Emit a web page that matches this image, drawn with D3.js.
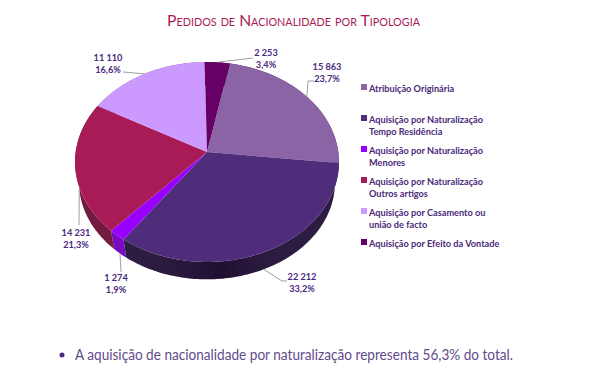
<!DOCTYPE html>
<html>
<head>
<meta charset="utf-8">
<script src="https://cdn.jsdelivr.net/npm/d3@7"></script>
<style>
    html, body { margin: 0; padding: 0; background: #fff; }
    svg { display: block; }
    text { font-family: Lato, "Open Sans", sans-serif; }
</style>
</head>
<body>
<svg id="chart" width="600" height="375"></svg>
<script>
const categories = [
    ['Atribuição Originária'],
    ['Aquisição por Naturalização', 'Tempo Residência'],
    ['Aquisição por Naturalização', 'Menores'],
    ['Aquisição por Naturalização', 'Outros artigos'],
    ['Aquisição por Casamento ou', 'união de facto'],
    ['Aquisição por Efeito da Vontade']
]
const values = [15863, 22212, 1274, 14231, 11110, 2253]
const valueLabels = ['15 863', '22 212', '1 274', '14 231', '11 110', '2 253']
const percentLabels = ['23,7%', '33,2%', '1,9%', '21,3%', '16,6%', '3,4%']
const topColors = ['#8b64a5', '#4f2d7b', '#9900ff', '#a81b57', '#cc99ff', '#660066']
const sideColors = ['#5c4070', '#24123a', '#7300c4', '#6e1238', '#8a66ad', '#440044']

const titleText = 'Pedidos de Nacionalidade por Tipologia'
const noteText = 'A aquisição de nacionalidade por naturalização representa 56,3% do total.'

// pie geometry, the lower disc is a bit smaller because of the perspective
const cx = 207, cy = 152, sx = 131.3, sy = 99, tilt = 0.1
const lowerScale = 0.97, lowerDrop = 21
const startAngle = 11 * Math.PI / 180

// label block centre + leader elbow points, same order as the values
const labelLayout = [
    { x: 327, y: 71, leader: [[308, 81], [314, 81]] },
    { x: 302, y: 281, leader: [[282, 281], [287, 281]] },
    { x: 116, y: 282, leader: [[121, 272]], side: true },
    { x: 76, y: 237, leader: [[79, 225]], side: true },
    { x: 108, y: 62, leader: [[123, 72]] },
    { x: 266, y: 57, leader: [[253, 58]] }
]

const legendX = 361
const legendRows = [89, 120, 151, 182, 213, 244]

const svg = d3.select('#chart')

const color = d3.scaleOrdinal().domain(d3.range(values.length)).range(topColors)
const sideColor = d3.scaleOrdinal().domain(d3.range(values.length)).range(sideColors)

const pie = d3.pie().sort(null)
    .startAngle(startAngle)
    .endAngle(startAngle + 2 * Math.PI)
const slices = pie(values)

// perspective projection of a point on the pie disc
function project(angle, radius = 1, drop = 0) {
    const u = Math.sin(angle) * radius
    const v = -Math.cos(angle) * radius
    const w = 1 - tilt * v
    return [cx + sx * u / w, cy + sy * v / w + drop]
}

function rim(a0, a1, radius, drop) {
    const n = Math.max(2, Math.ceil((a1 - a0) / 0.02))
    return d3.range(n + 1).map(i => project(a0 + (a1 - a0) * i / n, radius, drop))
}

const line = d3.line()

// gradient used to shade the side wall
const defs = svg.append('defs')
const shade = defs.append('linearGradient')
    .attr('id', 'sideShade')
    .attr('gradientUnits', 'userSpaceOnUse')
    .attr('x1', cx - sx).attr('x2', cx + sx).attr('y1', 0).attr('y2', 0)
shade.append('stop').attr('offset', 0).attr('stop-color', '#fff').attr('stop-opacity', 0.03)
shade.append('stop').attr('offset', 0.55).attr('stop-color', '#000').attr('stop-opacity', 0.15)
shade.append('stop').attr('offset', 1).attr('stop-color', '#fff').attr('stop-opacity', 0.03)

// side wall first, top faces cover what should not show
const sides = svg.append('g').attr('class', 'sides')
slices.forEach((d, i) => {
    const top = rim(d.startAngle, d.endAngle, 1, 0)
    const bottom = rim(d.startAngle, d.endAngle, lowerScale, lowerDrop).reverse()
    const outline = line(top.concat(bottom)) + 'Z'
    sides.append('path').attr('d', outline).attr('fill', sideColor(i))
    sides.append('path').attr('d', outline).attr('fill', 'url(#sideShade)')
})

// leaders sit between wall and top
const leaders = svg.append('g').attr('class', 'leaders')
slices.forEach((d, i) => {
    const mid = (d.startAngle + d.endAngle) / 2
    const lower = labelLayout[i].side || Math.cos(mid) < 0
    const start = lower ? project(mid, lowerScale, lowerDrop) : project(mid)
    leaders.append('path')
        .attr('d', line([start].concat(labelLayout[i].leader)))
        .attr('fill', 'none')
        .attr('stroke', '#a0a0a0')
        .attr('stroke-width', 1)
})

svg.append('g').attr('class', 'slices')
    .selectAll('path')
    .data(slices)
    .join('path')
    .attr('d', d => line([[cx, cy]].concat(rim(d.startAngle, d.endAngle, 1, 0))) + 'Z')
    .attr('fill', (d, i) => color(i))

// value labels
const labels = svg.append('g').attr('class', 'labels')
    .attr('font-size', 9.2)
    .attr('font-weight', 700)
    .attr('fill', '#4a2a80')
    .attr('text-anchor', 'middle')
labels.selectAll('text.value')
    .data(valueLabels)
    .join('text')
    .attr('class', 'value')
    .attr('x', (d, i) => labelLayout[i].x)
    .attr('y', (d, i) => labelLayout[i].y - 1)
    .text(d => d)
labels.selectAll('text.percent')
    .data(percentLabels)
    .join('text')
    .attr('class', 'percent')
    .attr('x', (d, i) => labelLayout[i].x)
    .attr('y', (d, i) => labelLayout[i].y + 11)
    .text(d => d)

// legend
const legend = svg.append('g').attr('class', 'legend')
    .selectAll('g')
    .data(categories)
    .join('g')
    .attr('transform', (d, i) => `translate(${legendX}, ${legendRows[i]})`)
legend.append('rect')
    .attr('x', 0).attr('y', -5)
    .attr('width', 6).attr('height', 6)
    .attr('fill', (d, i) => color(i))
legend.append('text')
    .attr('x', 8)
    .attr('font-size', 9.2)
    .attr('font-weight', 700)
    .attr('fill', '#4a2a7a')
    .selectAll('tspan')
    .data(d => d)
    .join('tspan')
    .attr('x', 8)
    .attr('y', (d, i) => 3 + i * 12)
    .text(d => d)

// title
svg.append('text')
    .attr('x', 167).attr('y', 26)
    .attr('font-size', 16)
    .attr('textLength', 253)
    .attr('lengthAdjust', 'spacingAndGlyphs')
    .attr('fill', '#a81b57')
    .style('font-variant', 'small-caps')
    .text(titleText)

// note under the chart
svg.append('circle')
    .attr('cx', 62).attr('cy', 355).attr('r', 2.5)
    .attr('fill', '#4a2a80')
svg.append('text')
    .attr('x', 75).attr('y', 360)
    .attr('font-size', 14.5)
    .attr('textLength', 438)
    .attr('lengthAdjust', 'spacingAndGlyphs')
    .attr('fill', '#5f4a8b')
    .text(noteText)
</script>
</body>
</html>
